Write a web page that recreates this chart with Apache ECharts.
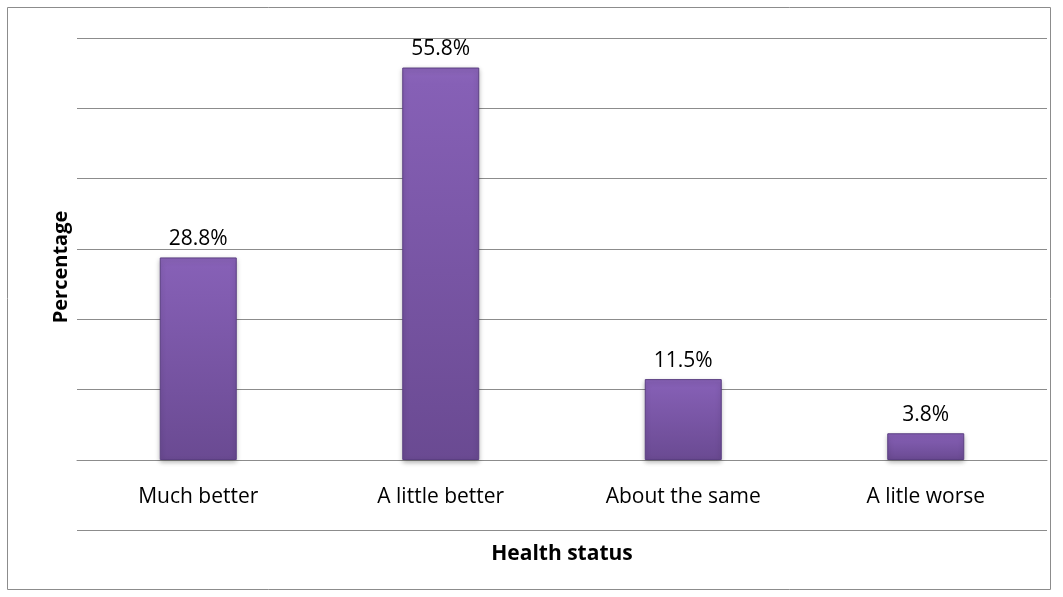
<!DOCTYPE html>
<html>
<head>
<meta charset="utf-8">
<script src="https://cdn.jsdelivr.net/npm/echarts@6/dist/echarts.min.js"></script>
<style>
  html, body { margin: 0; padding: 0; background: #fff; }
  #chart { width: 1063px; height: 597px; }
</style>
</head>
<body>
<div id="chart"></div>
<script>
// health status categories and share of respondents (%)
const categories = ["Much better", "A little better", "About the same", "A litle worse"];
const percentages = [28.8, 55.8, 11.5, 3.8];

const chart = echarts.init(document.getElementById("chart"));
const font = "'Open Sans', 'Noto Sans', sans-serif";

const option = {
  animation: false,
  grid: { left: 77, right: 16, top: 38, bottom: 137 },
  graphic: [
    {
      type: "rect",
      shape: { x: 7.5, y: 7.5, width: 1043, height: 582 },
      style: { fill: "none", stroke: "#8c8c8c", lineWidth: 1 }
    },
    {
      type: "line",
      shape: { x1: 77, y1: 530.5, x2: 1047, y2: 530.5 },
      style: { stroke: "#8c8c8c", lineWidth: 1 }
    }
  ],
  xAxis: {
    type: "category",
    data: categories,
    name: "Health status",
    nameLocation: "middle",
    nameGap: 84,
    nameTextStyle: { fontFamily: font, fontSize: 21, fontWeight: "bold", color: "#000" },
    axisTick: { show: false },
    axisLine: { lineStyle: { color: "#8c8c8c", width: 1 } },
    axisLabel: { fontFamily: font, fontSize: 21, color: "#000", margin: 27 }
  },
  yAxis: {
    type: "value",
    min: 0,
    max: 60,
    interval: 10,
    name: "Percentage",
    nameLocation: "middle",
    nameGap: 6,
    nameTextStyle: { fontFamily: font, fontSize: 20, fontWeight: "bold", color: "#000", padding: [0, 36, 0, 0] },
    axisLine: { show: false },
    axisTick: { show: false },
    axisLabel: { show: false },
    splitLine: { lineStyle: { color: "#8c8c8c", width: 1 } }
  },
  series: [
    {
      type: "bar",
      data: percentages,
      barWidth: 77,
      itemStyle: {
        color: new echarts.graphic.LinearGradient(0, 0, 0, 1, [
          { offset: 0, color: "#8c66bb" },
          { offset: 0.04, color: "#8660b6" },
          { offset: 1, color: "#6a4a92" }
        ]),
        borderColor: "#5b3f82",
        borderWidth: 1,
        shadowColor: "rgba(0,0,0,0.3)",
        shadowBlur: 5,
        shadowOffsetY: 2
      },
      label: {
        show: true,
        position: "top",
        distance: 8,
        formatter: (p) => p.value.toFixed(1) + "%",
        fontFamily: font,
        fontSize: 21,
        color: "#000"
      }
    }
  ]
};

chart.setOption(option);
</script>
</body>
</html>
